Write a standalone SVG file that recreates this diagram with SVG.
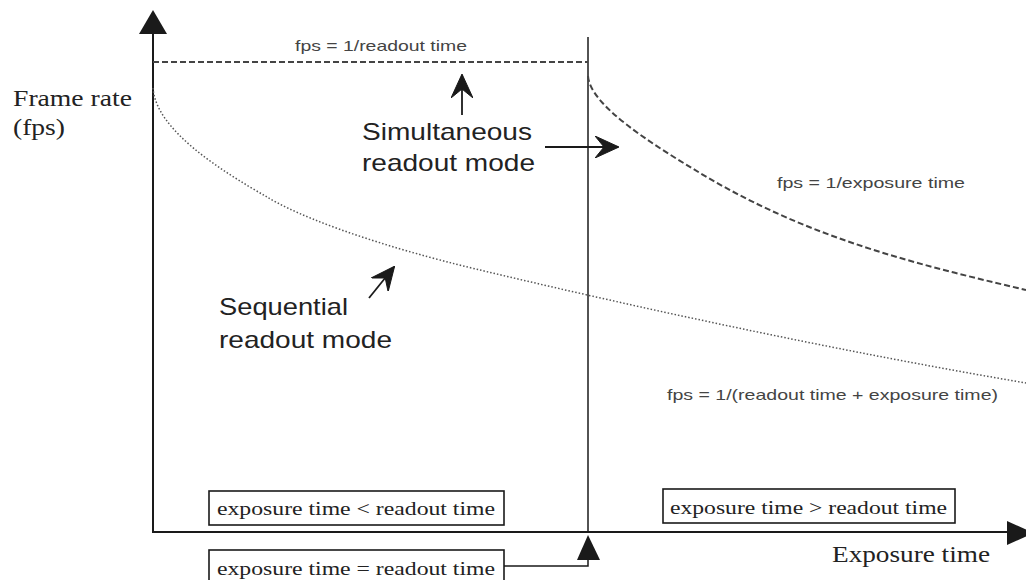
<svg xmlns="http://www.w3.org/2000/svg" width="1026" height="580" viewBox="0 0 1026 580">
<defs>
<style>
.serif{font-family:"Liberation Serif","Times New Roman",serif;fill:#222}
.sans{font-family:"Liberation Sans",Arial,sans-serif;fill:#222}
.small{font-family:"Liberation Sans",Arial,sans-serif;fill:#444;font-size:15px}
.axis{stroke:#1a1a1a;stroke-width:2;fill:none}
.thin{stroke:#1a1a1a;stroke-width:1.5;fill:none}
.box{stroke:#1a1a1a;stroke-width:1.6;fill:#fff}
.dash{stroke:#444;stroke-width:2;fill:none;stroke-dasharray:6 3}
.dot{stroke:#555;stroke-width:1.5;fill:none;stroke-dasharray:1.5 2}
.ptr{stroke:#1a1a1a;stroke-width:1.8;fill:none}
</style>
<marker id="stealth" viewBox="0 0 24 22" refX="23" refY="11" markerWidth="24" markerHeight="22" markerUnits="userSpaceOnUse" orient="auto">
<path d="M0,0 L24,11 L0,22 L9,11 z" fill="#1a1a1a" stroke="#1a1a1a" stroke-width="1" stroke-linejoin="round"/>
</marker>
</defs>

<g id="connectors">
<!-- axes -->
<line class="axis" x1="153" y1="32" x2="153" y2="533"/>
<polygon points="153,10 139,34 167,34" fill="#1a1a1a"/>
<line class="axis" x1="152" y1="532" x2="1010" y2="532"/>
<polygon points="1034,533 1007,521 1007,545" fill="#1a1a1a"/>
<!-- divider -->
<line class="thin" x1="588" y1="37" x2="588" y2="532"/>
<!-- simultaneous curve -->
<line class="dash" x1="153" y1="62" x2="588" y2="62"/>
<path class="dash" d="M588,76 C590,105 650,143 700,173 C810,239 916,264 1026,290"/>
<!-- sequential curve -->
<path class="dot" d="M153,88 C156,130 220,170 267,197 C317,227 420,256 480,270 C660,313 850,353 1026,383"/>
<!-- pointers -->
<line class="ptr" x1="462" y1="115" x2="462" y2="75" marker-end="url(#stealth)"/>
<line class="ptr" x1="545" y1="147" x2="618" y2="147" marker-end="url(#stealth)"/>
<line class="ptr" x1="369" y1="298" x2="394" y2="267" marker-end="url(#stealth)"/>
<!-- equal connector -->
<polyline class="thin" points="504,566 588,566 588,558"/>
<polygon points="588,535 577,560 600,560" fill="#1a1a1a"/>
</g>

<g id="axis-labels">
<text class="serif" x="13" y="106" font-size="24" textLength="119" lengthAdjust="spacingAndGlyphs">Frame rate</text>
<text class="serif" x="13" y="135" font-size="24" textLength="52" lengthAdjust="spacingAndGlyphs">(fps)</text>
<text class="serif" x="832" y="562" font-size="24" textLength="158" lengthAdjust="spacingAndGlyphs">Exposure time</text>
</g>

<g id="formula-readout">
<text class="small" x="295" y="51" textLength="172" lengthAdjust="spacingAndGlyphs">fps = 1/readout time</text>
</g>
<g id="formula-exposure">
<text class="small" x="777" y="188" textLength="188" lengthAdjust="spacingAndGlyphs">fps = 1/exposure time</text>
</g>
<g id="formula-sum">
<text class="small" x="667" y="400" textLength="331" lengthAdjust="spacingAndGlyphs">fps = 1/(readout time + exposure time)</text>
</g>

<g id="simultaneous-label">
<text class="sans" x="362" y="140" font-size="24" textLength="170" lengthAdjust="spacingAndGlyphs">Simultaneous</text>
<text class="sans" x="362" y="171" font-size="24" textLength="173" lengthAdjust="spacingAndGlyphs">readout mode</text>
</g>
<g id="sequential-label">
<text class="sans" x="219" y="315" font-size="24" textLength="129" lengthAdjust="spacingAndGlyphs">Sequential</text>
<text class="sans" x="219" y="348" font-size="24" textLength="173" lengthAdjust="spacingAndGlyphs">readout mode</text>
</g>

<g id="box-less">
<rect class="box" x="209" y="491" width="295" height="34"/>
<text class="serif" x="217" y="515" font-size="19" textLength="278" lengthAdjust="spacingAndGlyphs">exposure time &lt; readout time</text>
</g>
<g id="box-greater">
<rect class="box" x="663" y="489" width="292" height="34"/>
<text class="serif" x="670" y="514" font-size="19" textLength="277" lengthAdjust="spacingAndGlyphs">exposure time &gt; readout time</text>
</g>
<g id="box-equal">
<rect class="box" x="209" y="550" width="295" height="40"/>
<text class="serif" x="217" y="575" font-size="19" textLength="278" lengthAdjust="spacingAndGlyphs">exposure time = readout time</text>
</g>
</svg>
